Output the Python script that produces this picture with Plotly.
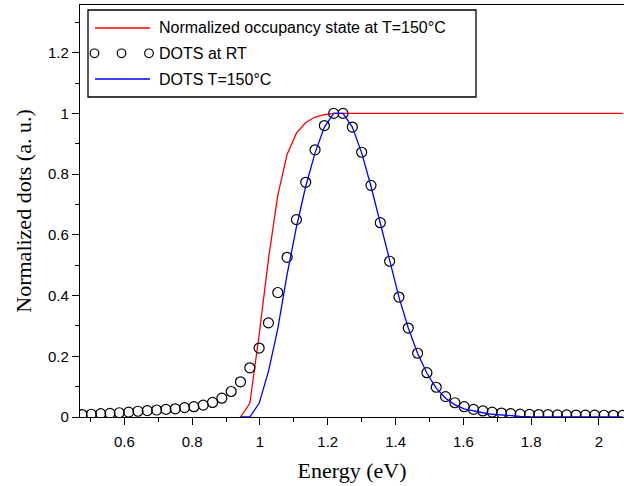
import plotly.graph_objects as go

# ---- data ----
x_start = 0.475
x_step = 0.0275
dots_rt = [0.008, 0.009, 0.011, 0.012, 0.014, 0.016, 0.019, 0.021, 0.023, 0.025,
           0.027, 0.031, 0.034, 0.039, 0.048, 0.062, 0.084, 0.116, 0.162, 0.227,
           0.31, 0.41, 0.526, 0.65, 0.773, 0.88, 0.96, 1.0, 1.0, 0.955,
           0.872, 0.763, 0.64, 0.513, 0.395, 0.293, 0.21, 0.146, 0.098, 0.067,
           0.047, 0.034, 0.025, 0.02, 0.016, 0.013, 0.011, 0.0095, 0.0085, 0.008,
           0.0075, 0.007, 0.0068, 0.0065, 0.006, 0.006, 0.0058, 0.0055, 0.0055]
energy = [round(x_start + i * x_step, 4) for i in range(len(dots_rt))]

occ_energy = energy[17:]
occupancy = [0.0, 0.045, 0.27, 0.52, 0.73, 0.865, 0.935, 0.97, 0.988, 0.996] + [1.0] * (len(occ_energy) - 10)

dots150_energy = energy[17:]
dots150 = [0.0, 0.0, 0.045, 0.15, 0.29, 0.47, 0.625, 0.76, 0.87, 0.955,
           1.0, 1.0, 0.955, 0.87, 0.76, 0.64, 0.513, 0.395, 0.293, 0.21,
           0.144, 0.095, 0.062, 0.04, 0.027, 0.02, 0.014, 0.009, 0.006, 0.004,
           0.002, 0.001] + [0.0] * (len(dots150_energy) - 32)

x_ticks = [0.6, 0.8, 1.0, 1.2, 1.4, 1.6, 1.8, 2.0]
y_ticks = [0, 0.2, 0.4, 0.6, 0.8, 1.0, 1.2]

legend_labels = ["Normalized occupancy state at T=150°C", "DOTS at RT", "DOTS T=150°C"]

# ---- figure ----
W, H = 624, 486
ML, MR, MT, MB = 80, 0, 5, 69
PW, PH = W - ML - MR, H - MT - MB

def px(x):
    return (x - ML) / PW

def py(y):
    return (H - MB - y) / PH

fig = go.Figure()
fig.add_trace(go.Scatter(x=occ_energy, y=occupancy, mode="lines",
                         line=dict(color="#ff0000", width=1.3), showlegend=False))
fig.add_trace(go.Scatter(x=energy, y=dots_rt, mode="markers",
                         marker=dict(symbol="circle-open", size=10, color="black",
                                     line=dict(width=1.2, color="black")),
                         showlegend=False))
fig.add_trace(go.Scatter(x=dots150_energy, y=dots150, mode="lines",
                         line=dict(color="#0000ff", width=1.3), showlegend=False))

axis_font = dict(family="Liberation Sans, Arial, sans-serif", size=15, color="black")
title_font = dict(family="Liberation Serif, Times New Roman, serif", size=22, color="black")

fig.update_layout(
    width=W, height=H,
    margin=dict(l=ML, r=MR, t=MT, b=MB),
    paper_bgcolor="white", plot_bgcolor="white",
    xaxis=dict(range=[0.469, 2.074], tickvals=x_ticks, ticktext=[f"{v:g}" for v in x_ticks],
               ticks="outside", ticklen=7, tickwidth=1, tickcolor="black",
               minor=dict(dtick=0.1, tick0=0, ticks="outside", ticklen=4, tickcolor="black"),
               showline=True, linecolor="black", linewidth=1.3, mirror=True,
               showgrid=False, zeroline=False, tickfont=axis_font, automargin=False,
               ticklabelstandoff=4,
               title=dict(text="Energy (eV)", font=title_font, standoff=13)),
    yaxis=dict(range=[0, 1.357], tickvals=y_ticks, ticktext=[f"{v:g}" for v in y_ticks],
               ticks="outside", ticklen=7, tickwidth=1, tickcolor="black",
               minor=dict(dtick=0.1, tick0=0, ticks="outside", ticklen=4, tickcolor="black"),
               showline=True, linecolor="black", linewidth=1.3,
               showgrid=False, zeroline=False, tickfont=axis_font, automargin=False,
               title=dict(text="Normalized dots (a. u.)", font=title_font, standoff=10)),
)

# ---- manual legend (Origin style) ----
shapes = [dict(type="rect", xref="paper", yref="paper",
               x0=px(88), x1=px(476), y0=py(10), y1=py(97),
               line=dict(color="black", width=1.3), fillcolor="white", layer="above")]
shapes.append(dict(type="line", xref="paper", yref="paper", x0=px(95), x1=px(150),
                   y0=py(28), y1=py(28), line=dict(color="#ff0000", width=1.3)))
shapes.append(dict(type="line", xref="paper", yref="paper", x0=px(95), x1=px(150),
                   y0=py(79), y1=py(79), line=dict(color="#0000ff", width=1.3)))
for cx in (94.5, 121.5, 149):
    shapes.append(dict(type="circle", xref="paper", yref="paper",
                       x0=px(cx - 4.3), x1=px(cx + 4.3), y0=py(53.3 - 4.3), y1=py(53.3 + 4.3),
                       line=dict(color="black", width=1.2)))
fig.update_layout(shapes=shapes)

leg_font = dict(family="Liberation Sans, Arial, sans-serif", size=16, color="black")
for label, yy in zip(legend_labels, (28, 53.3, 79)):
    fig.add_annotation(x=px(157), y=py(yy), xref="paper", yref="paper", text=label,
                       showarrow=False, xanchor="left", yanchor="middle", font=leg_font)

fig.write_html("out.html", config={"displayModeBar": False},
               post_script="document.body.style.margin='0px';document.body.style.padding='0px';document.body.style.overflow='hidden';")
